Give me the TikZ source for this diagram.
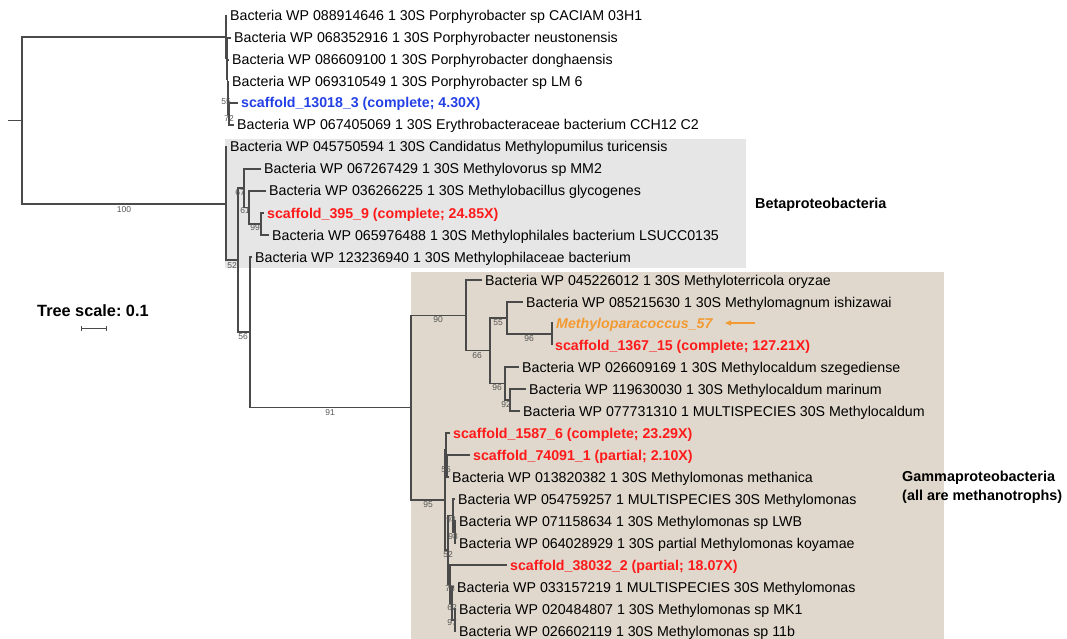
\documentclass[tikz,border=0pt]{standalone}
\usepackage{fontspec}
\setmainfont{Liberation Sans}
\usetikzlibrary{arrows.meta}
\frenchspacing
\definecolor{brgray}{HTML}{4A4A4A}
\definecolor{bsgray}{HTML}{555555}
\definecolor{redc}{HTML}{FF1A1A}
\definecolor{bluec}{HTML}{2340E6}
\definecolor{orangec}{HTML}{F39A32}
\definecolor{beige}{HTML}{E0D8CC}
\definecolor{lgray}{HTML}{E6E6E6}
\tikzset{
  br/.style={draw=brgray, line width=1.3pt},
  txt/.style={inner sep=0pt, anchor=base west, text=black, font=\fontsize{14.2}{16}\selectfont},
  scaf/.style={txt, text=redc, font=\fontsize{14.2}{16}\selectfont\bfseries},
  blu/.style={txt, text=bluec, font=\fontsize{14.2}{16}\selectfont\bfseries},
  ora/.style={txt, text=orangec, font=\fontsize{14.2}{16}\selectfont\bfseries\itshape},
  bs/.style={inner sep=0pt, text=bsgray, font=\fontsize{8.5}{9}\selectfont},
  grp/.style={inner sep=0pt, anchor=base west, text=black, font=\fontsize{14.4}{17}\selectfont\bfseries},
}
\newcommand\lf[5]{\coordinate (#1) at (#2-3,#3); \node[#4] (#1t) at (#2,#3+5) {#5};}
\begin{document}
\begin{tikzpicture}[x=1pt,y=-1pt]
\useasboundingbox (0,0) rectangle (1067,639);
% backgrounds
\fill[lgray] (225,139) rectangle (746,268);
\fill[beige] (411,272) rectangle (944,639);
% internal nodes
\coordinate (root) at (8,120.5);
\coordinate (R) at (22,120.5);
\coordinate (T) at (226,37);
\coordinate (T2) at (227,58.5);
\coordinate (T3) at (227.5,79);
\coordinate (T4) at (228,98);
\coordinate (T5) at (229,114);
\coordinate (A) at (226,204);
\coordinate (B) at (238,260);
\coordinate (D) at (244,188);
\coordinate (E) at (249,207.5);
\coordinate (F) at (261,224);
\coordinate (C) at (250,332);
\coordinate (G) at (411,407.5);
\coordinate (H) at (466,315.4);
\coordinate (K) at (490,350.75);
\coordinate (L) at (507,318);
\coordinate (N) at (552,334);
\coordinate (M) at (505,383.5);
\coordinate (P) at (510,400);
\coordinate (J) at (445,500);
\coordinate (U) at (446,449.5);
\coordinate (U2) at (447,466);
\coordinate (V) at (448,550);
\coordinate (W) at (453,515.5);
\coordinate (W2) at (455,532);
\coordinate (X) at (450,584);
\coordinate (X2) at (452,603.5);
\coordinate (X3) at (455,620);
% leaves
\lf{l1}{230}{16}{txt}{Bacteria WP 088914646 1 30S Porphyrobacter sp CACIAM 03H1}
\lf{l2}{234}{38}{txt}{Bacteria WP 068352916 1 30S Porphyrobacter neustonensis}
\lf{l3}{232}{60}{txt}{Bacteria WP 086609100 1 30S Porphyrobacter donghaensis}
\lf{l4}{232}{82}{txt}{Bacteria WP 069310549 1 30S Porphyrobacter sp LM 6}
\lf{l5}{241}{103}{blu}{scaffold\_13018\_3 (complete; 4.30X)}
\lf{l6}{237}{125}{txt}{Bacteria WP 067405069 1 30S Erythrobacteraceae bacterium CCH12 C2}
\lf{l7}{230}{147}{txt}{Bacteria WP 045750594 1 30S Candidatus Methylopumilus turicensis}
\lf{l8}{264}{169}{txt}{Bacteria WP 067267429 1 30S Methylovorus sp MM2}
\lf{l9}{269}{191}{txt}{Bacteria WP 036266225 1 30S Methylobacillus glycogenes}
\lf{l10}{267}{213}{scaf}{scaffold\_395\_9 (complete; 24.85X)}
\lf{l11}{272}{235}{txt}{Bacteria WP 065976488 1 30S Methylophilales bacterium LSUCC0135}
\lf{l12}{255}{257}{txt}{Bacteria WP 123236940 1 30S Methylophilaceae bacterium}
\lf{l13}{485}{280}{txt}{Bacteria WP 045226012 1 30S Methyloterricola oryzae}
\lf{l14}{526}{302}{txt}{Bacteria WP 085215630 1 30S Methylomagnum ishizawai}
\lf{l15}{556}{323}{ora}{Methyloparacoccus\_57}
\lf{l16}{555}{345}{scaf}{scaffold\_1367\_15 (complete; 127.21X)}
\lf{l17}{522}{367}{txt}{Bacteria WP 026609169 1 30S Methylocaldum szegediense}
\lf{l18}{529}{389}{txt}{Bacteria WP 119630030 1 30S Methylocaldum marinum}
\lf{l19}{523}{411}{txt}{Bacteria WP 077731310 1 MULTISPECIES 30S Methylocaldum}
\lf{l20}{453}{433}{scaf}{scaffold\_1587\_6 (complete; 23.29X)}
\lf{l21}{473}{455}{scaf}{scaffold\_74091\_1 (partial; 2.10X)}
\lf{l22}{452}{477}{txt}{Bacteria WP 013820382 1 30S Methylomonas methanica}
\lf{l23}{458}{499}{txt}{Bacteria WP 054759257 1 MULTISPECIES 30S Methylomonas}
\lf{l24}{459}{521}{txt}{Bacteria WP 071158634 1 30S Methylomonas sp LWB}
\lf{l25}{459}{543}{txt}{Bacteria WP 064028929 1 30S partial Methylomonas koyamae}
\lf{l26}{510}{565}{scaf}{scaffold\_38032\_2 (partial; 18.07X)}
\lf{l27}{457}{587}{txt}{Bacteria WP 033157219 1 MULTISPECIES 30S Methylomonas}
\lf{l28}{459}{609}{txt}{Bacteria WP 020484807 1 30S Methylomonas sp MK1}
\lf{l29}{459}{631}{txt}{Bacteria WP 026602119 1 30S Methylomonas sp 11b}
% branches
\draw[br] (root) -- (R);
\foreach \c/\p in {T/R, A/R,
  l1/T, T2/T, l2/T2, T3/T2, l3/T3, T4/T3, l4/T4, T5/T4, l5/T5, l6/T5,
  l7/A, B/A, D/B, C/B, l8/D, E/D, l9/E, F/E, l10/F, l11/F,
  l12/C, G/C, H/G, J/G, l13/H, K/H, L/K, M/K, l14/L, N/L, l15/N, l16/N,
  l17/M, P/M, l18/P, l19/P,
  U/J, V/J, l20/U, U2/U, l21/U2, l22/U2, W/V, X/V, l23/W, W2/W, l24/W2, l25/W2,
  l26/X, X2/X, l27/X2, X3/X2, l28/X3, l29/X3}
  {\draw[br] (\c) -| (\p);}
% bootstrap values
\node[bs] (b1) at (226,102) {55};
\node[bs] (b2) at (229,119) {72};
\node[bs] (b3) at (124,210) {100};
\node[bs] (b4) at (232,266) {52};
\node[bs] (b5) at (240,193) {67};
\node[bs] (b6) at (245,211) {61};
\node[bs] (b7) at (255,228) {99};
\node[bs] (b8) at (243,337) {56};
\node[bs] (b9) at (330,413) {91};
\node[bs] (b10) at (438,320) {90};
\node[bs] (b11) at (498,323) {55};
\node[bs] (b12) at (529,339) {96};
\node[bs] (b13) at (477,356) {66};
\node[bs] (b14) at (497,388) {96};
\node[bs] (b15) at (506,405) {92};
\node[bs] (b16) at (428,505) {95};
\node[bs] (b17) at (446,470) {55};
\node[bs] (b18) at (451,520) {93};
\node[bs] (b19) at (453,537) {98};
\node[bs] (b20) at (448,555) {52};
\node[bs] (b21) at (450,589) {78};
\node[bs] (b22) at (452,608) {62};
\node[bs] (b23) at (452,623) {97};
% arrow
\coordinate (arrS) at (755,323);
\coordinate (arrE) at (725,323);
\draw[orangec, line width=1.2pt, -{Triangle[length=6pt,width=5pt]}] (arrS) -- (arrE);
% group labels
\node[grp] (beta) at (755,208) {Betaproteobacteria};
\node[grp] (gam1) at (902,481) {Gammaproteobacteria};
\node[grp] (gam2) at (902,500) {(all are methanotrophs)};
% scale
\node[inner sep=0pt, anchor=base west, font=\fontsize{16.3}{18}\selectfont\bfseries] (ts) at (37,316) {Tree scale: 0.1};
\coordinate (s1) at (81,328.3);
\coordinate (s2) at (106.5,328.3);
\draw[brgray, line width=1.3pt] (s1) -- (s2);
\draw[brgray, line width=1pt] ([yshift=-2.5pt]s1) -- ([yshift=2.5pt]s1);
\draw[brgray, line width=1pt] ([yshift=-2.5pt]s2) -- ([yshift=2.5pt]s2);
\end{tikzpicture}
\end{document}
